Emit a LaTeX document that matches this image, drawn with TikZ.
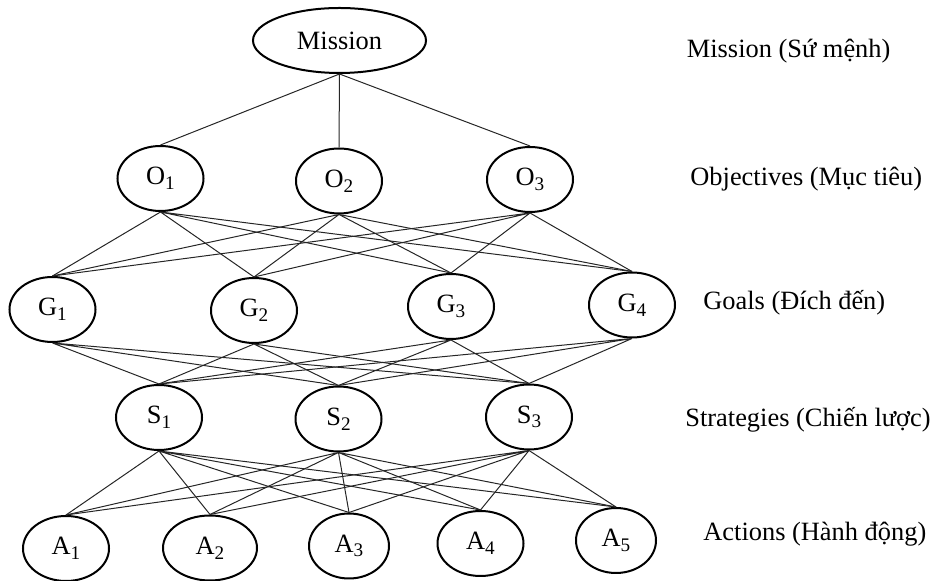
\documentclass[tikz,border=0pt]{standalone}
\usepackage{fontspec}
\setmainfont{Liberation Serif}
\usetikzlibrary{shapes.geometric}
\newcommand{\ped}[1]{\raisebox{-2.3pt}{\fontsize{9.6}{10}\selectfont #1}}
\tikzset{
	oval/.style={draw, ellipse, line width=1pt, minimum width=43pt, minimum height=32.5pt, inner sep=0pt},
	link/.style={line width=0.5pt, black!85},
	level/.style={anchor=base west, inner sep=0pt}
}
\begin{document}
\begin{tikzpicture}[x=0.5pt, y=-0.5pt, font=\fontsize{13.2}{16}\selectfont]
			\useasboundingbox (0,0) rectangle (932,581);
			%Nodi
			\node [oval, minimum width=86.5pt] (mission) at (339.5,40.5) {Mission};
			\node [oval] (o1) at (160.5,178.5) {O\ped{1}};
			\node [oval] (o2) at (339,181) {O\ped{2}};
			\node [oval] (o3) at (530,179.5) {O\ped{3}};
			\node [oval] (g1) at (52.5,309.5) {G\ped{1}};
			\node [oval] (g2) at (254,310.5) {G\ped{2}};
			\node [oval] (g3) at (451,306.5) {G\ped{3}};
			\node [oval] (g4) at (632,305) {G\ped{4}};
			\node [oval] (s1) at (159,417.5) {S\ped{1}};
			\node [oval] (s2) at (338.5,419) {S\ped{2}};
			\node [oval] (s3) at (529,417) {S\ped{3}};
			\node [oval] (a1) at (66,548.5) {A\ped{1}};
			\node [oval, minimum width=47pt] (a2) at (210,548) {A\ped{2}};
			\node [oval, minimum width=40pt] (a3) at (349,546) {A\ped{3}};
			\node [oval] (a4) at (480.5,543.5) {A\ped{4}};
			\node [oval, minimum width=40pt] (a5) at (616,540.5) {A\ped{5}};
			%Collegamenti
			\draw [link] (mission.south) -- (o1.north) (mission.south) -- (o2.north) (mission.south) -- (o3.north);
			\draw [link] (o1.south) -- (g1.north) (o1.south) -- (g2.north) (o1.south) -- (g3.north) (o1.south) -- (g4.north);
			\draw [link] (o2.south) -- (g1.north) (o2.south) -- (g2.north) (o2.south) -- (g3.north) (o2.south) -- (g4.north);
			\draw [link] (o3.south) -- (g1.north) (o3.south) -- (g2.north) (o3.south) -- (g3.north) (o3.south) -- (g4.north);
			\draw [link] (g1.south) -- (s1.north) (g1.south) -- (s2.north) (g1.south) -- (s3.north);
			\draw [link] (g2.south) -- (s1.north) (g2.south) -- (s2.north) (g2.south) -- (s3.north);
			\draw [link] (g3.south) -- (s1.north) (g3.south) -- (s2.north) (g3.south) -- (s3.north);
			\draw [link] (g4.south) -- (s1.north) (g4.south) -- (s2.north) (g4.south) -- (s3.north);
			\draw [link] (s1.south) -- (a1.north) (s1.south) -- (a2.north) (s1.south) -- (a3.north) (s1.south) -- (a4.north) (s1.south) -- (a5.north);
			\draw [link] (s2.south) -- (a1.north) (s2.south) -- (a2.north) (s2.south) -- (a3.north) (s2.south) -- (a4.north) (s2.south) -- (a5.north);
			\draw [link] (s3.south) -- (a1.north) (s3.south) -- (a2.north) (s3.south) -- (a3.north) (s3.south) -- (a4.north) (s3.south) -- (a5.north);
			%Livelli
			\node [level] (lmission) at (686.5,57.3) {Mission (Sứ mệnh)};
			\node [level] (lobj) at (690,185.7) {Objectives (Mục tiêu)};
			\node [level] (lgoals) at (703,310) {Goals (Đích đến)};
			\node [level] (lstrat) at (685,426.7) {Strategies (Chiến lược)};
			\node [level] (lact) at (703,540.5) {Actions (Hành động)};
	\end{tikzpicture}
\end{document}
